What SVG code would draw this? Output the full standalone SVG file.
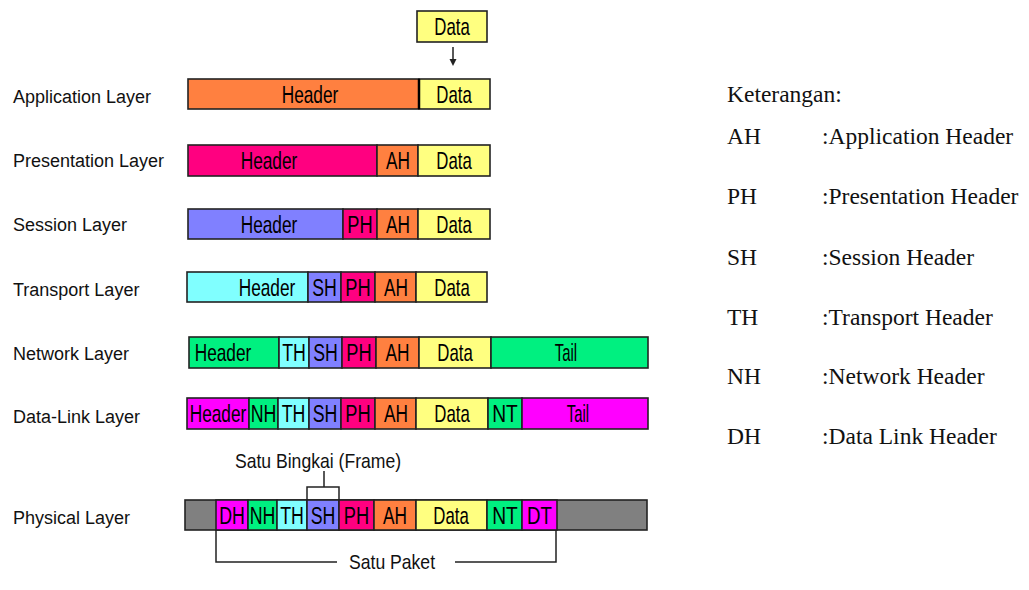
<svg xmlns="http://www.w3.org/2000/svg" width="1029" height="590" viewBox="0 0 1029 590">
<style>
.s{stroke:#222;stroke-width:1.6}
.o{fill:#FF8040}.p{fill:#FF0080}.b{fill:#8080FF}.c{fill:#80FFFF}.g{fill:#00F080}.m{fill:#FF00FF}.y{fill:#FFFF80}.gr{fill:#808080}
.t{font-family:"Liberation Sans",Arial,sans-serif;font-size:24px;fill:#000;text-anchor:middle}
.lbl{font-family:"Liberation Sans",Arial,sans-serif;font-size:18px;fill:#111}
.lg{font-family:"Liberation Serif","Times New Roman",serif;font-size:23.5px;fill:#111}
.cap{font-family:"Liberation Sans",Arial,sans-serif;font-size:20px;fill:#111;text-anchor:middle}
.ln{stroke:#222;stroke-width:1.5;fill:none}
</style>
<rect width="1029" height="590" fill="#fff"/>

<g id="labels">
<text class="lbl" x="13" y="103">Application Layer</text>
<text class="lbl" x="13" y="167">Presentation Layer</text>
<text class="lbl" x="13" y="231">Session Layer</text>
<text class="lbl" x="13" y="296">Transport Layer</text>
<text class="lbl" x="13" y="360">Network Layer</text>
<text class="lbl" x="13" y="423">Data-Link Layer</text>
<text class="lbl" x="13" y="524">Physical Layer</text>
</g>

<g id="data-top">
<rect class="s y" x="417" y="11" width="70" height="31"/>
<text class="t" transform="translate(452,35) scale(.7,1)">Data</text>
</g>

<g id="application">
<rect class="s o" x="188" y="79" width="231" height="30"/>
<rect class="s y" x="419" y="79" width="71" height="30"/>
<line x1="419" y1="79" x2="419" y2="109" stroke="#000" stroke-width="2.5"/>
<text class="t" transform="translate(310,103) scale(.72,1)">Header</text>
<text class="t" transform="translate(454,103) scale(.7,1)">Data</text>
</g>

<g id="presentation">
<rect class="s p" x="188" y="145" width="189" height="31"/>
<rect class="s o" x="377" y="145" width="41" height="31"/>
<rect class="s y" x="418" y="145" width="72" height="31"/>
<text class="t" transform="translate(269,169) scale(.72,1)">Header</text>
<text class="t" transform="translate(398,169) scale(.72,1)">AH</text>
<text class="t" transform="translate(454,169) scale(.7,1)">Data</text>
</g>

<g id="session">
<rect class="s b" x="188" y="209" width="155" height="30"/>
<rect class="s p" x="343" y="209" width="34" height="30"/>
<rect class="s o" x="377" y="209" width="41" height="30"/>
<rect class="s y" x="418" y="209" width="72" height="30"/>
<text class="t" transform="translate(269,233) scale(.72,1)">Header</text>
<text class="t" transform="translate(360,233) scale(.76,1)">PH</text>
<text class="t" transform="translate(398,233) scale(.72,1)">AH</text>
<text class="t" transform="translate(454,233) scale(.7,1)">Data</text>
</g>

<g id="transport">
<rect class="s c" x="187" y="272" width="121" height="30"/>
<rect class="s b" x="308" y="272" width="33" height="30"/>
<rect class="s p" x="341" y="272" width="34" height="30"/>
<rect class="s o" x="375" y="272" width="41" height="30"/>
<rect class="s y" x="416" y="272" width="71" height="30"/>
<text class="t" transform="translate(267,296) scale(.72,1)">Header</text>
<text class="t" transform="translate(324.5,296) scale(.74,1)">SH</text>
<text class="t" transform="translate(358,296) scale(.76,1)">PH</text>
<text class="t" transform="translate(396,296) scale(.72,1)">AH</text>
<text class="t" transform="translate(452,296) scale(.7,1)">Data</text>
</g>

<g id="network">
<rect class="s g" x="189" y="337" width="90" height="31"/>
<rect class="s c" x="279" y="337" width="30" height="31"/>
<rect class="s b" x="309" y="337" width="33" height="31"/>
<rect class="s p" x="342" y="337" width="34" height="31"/>
<rect class="s o" x="376" y="337" width="43" height="31"/>
<rect class="s y" x="419" y="337" width="72" height="31"/>
<rect class="s g" x="491" y="337" width="157" height="31"/>
<text class="t" transform="translate(223,361) scale(.72,1)">Header</text>
<text class="t" transform="translate(294,361) scale(.74,1)">TH</text>
<text class="t" transform="translate(325.5,361) scale(.74,1)">SH</text>
<text class="t" transform="translate(359,361) scale(.76,1)">PH</text>
<text class="t" transform="translate(397.5,361) scale(.72,1)">AH</text>
<text class="t" transform="translate(455,361) scale(.7,1)">Data</text>
<text class="t" transform="translate(566,361) scale(.62,1)">Tail</text>
</g>

<g id="datalink">
<rect class="s m" x="187" y="398" width="62" height="31"/>
<rect class="s g" x="249" y="398" width="29" height="31"/>
<rect class="s c" x="278" y="398" width="31" height="31"/>
<rect class="s b" x="309" y="398" width="32" height="31"/>
<rect class="s p" x="341" y="398" width="34" height="31"/>
<rect class="s o" x="375" y="398" width="41" height="31"/>
<rect class="s y" x="416" y="398" width="72" height="31"/>
<rect class="s g" x="488" y="398" width="34" height="31"/>
<rect class="s m" x="522" y="398" width="126" height="31"/>
<text class="t" transform="translate(218,422) scale(.72,1)">Header</text>
<text class="t" transform="translate(263.5,422) scale(.74,1)">NH</text>
<text class="t" transform="translate(293.5,422) scale(.74,1)">TH</text>
<text class="t" transform="translate(325,422) scale(.74,1)">SH</text>
<text class="t" transform="translate(358,422) scale(.76,1)">PH</text>
<text class="t" transform="translate(396,422) scale(.72,1)">AH</text>
<text class="t" transform="translate(452,422) scale(.7,1)">Data</text>
<text class="t" transform="translate(505,422) scale(.8,1)">NT</text>
<text class="t" transform="translate(578,422) scale(.62,1)">Tail</text>
</g>

<g id="physical">
<rect class="s gr" x="185" y="500" width="462" height="30"/>
<rect class="s m" x="216" y="500" width="32" height="30"/>
<rect class="s g" x="248" y="500" width="29" height="30"/>
<rect class="s c" x="277" y="500" width="30" height="30"/>
<rect class="s b" x="307" y="500" width="32" height="30"/>
<rect class="s p" x="339" y="500" width="35" height="30"/>
<rect class="s o" x="374" y="500" width="42" height="30"/>
<rect class="s y" x="416" y="500" width="71" height="30"/>
<rect class="s g" x="487" y="500" width="35" height="30"/>
<rect class="s m" x="522" y="500" width="35" height="30"/>
<text class="t" transform="translate(232,524) scale(.74,1)">DH</text>
<text class="t" transform="translate(262.5,524) scale(.74,1)">NH</text>
<text class="t" transform="translate(292,524) scale(.74,1)">TH</text>
<text class="t" transform="translate(323,524) scale(.74,1)">SH</text>
<text class="t" transform="translate(356.5,524) scale(.76,1)">PH</text>
<text class="t" transform="translate(395,524) scale(.72,1)">AH</text>
<text class="t" transform="translate(451,524) scale(.7,1)">Data</text>
<text class="t" transform="translate(505,524) scale(.8,1)">NT</text>
<text class="t" transform="translate(539.5,524) scale(.78,1)">DT</text>
</g>

<g id="connectors">
<line class="ln" x1="453" y1="47" x2="453" y2="60"/>
<path d="M449.5,59 L456.5,59 L453,66 Z" fill="#222"/>
<path class="ln" d="M307,500 V487 H339 V500 M324,487 V471"/>
<path class="ln" d="M216,530 V562 H337 M455,562 H556 V530"/>
</g>

<g id="captions">
<text class="cap" transform="translate(318,468) scale(.88,1)">Satu Bingkai (Frame)</text>
<text class="cap" font-size="21" transform="translate(392,569) scale(.88,1)">Satu Paket</text>
</g>

<g id="legend">
<text class="lg" x="727" y="102">Keterangan:</text>
<text class="lg" x="727" y="144">AH</text><text class="lg" x="822" y="144">:Application Header</text>
<text class="lg" x="727" y="204">PH</text><text class="lg" x="822" y="204">:Presentation Header</text>
<text class="lg" x="727" y="265">SH</text><text class="lg" x="822" y="265">:Session Header</text>
<text class="lg" x="727" y="325">TH</text><text class="lg" x="822" y="325">:Transport Header</text>
<text class="lg" x="727" y="384">NH</text><text class="lg" x="822" y="384">:Network Header</text>
<text class="lg" x="727" y="444">DH</text><text class="lg" x="822" y="444">:Data Link Header</text>
</g>
</svg>
